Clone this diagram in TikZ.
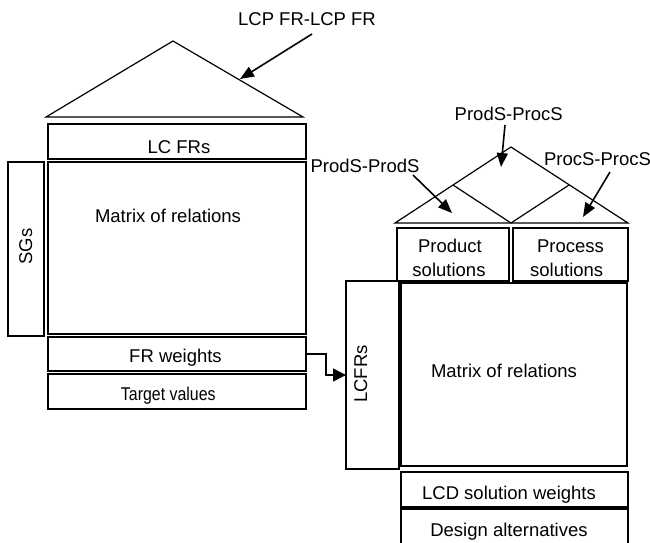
\documentclass[tikz,border=0pt]{standalone}
\usepackage{fontspec}
\setmainfont{Liberation Sans}
\newfontfamily\narrowfont[FakeStretch=0.86]{Liberation Sans}
\usetikzlibrary{arrows.meta}

\begin{document}
\begin{tikzpicture}[x=1pt,y=-1pt,
  frame/.style={draw, rectangle, line width=1.3pt, inner sep=0pt, outer sep=0pt},
  lbl/.style={anchor=base, inner sep=0pt, outer sep=0pt, align=center,
              font=\fontsize{18.5}{24.4}\selectfont},
  roof/.style={line width=1.2pt, line join=miter},
  pointer/.style={line width=1.6pt, -{Triangle[length=14pt,width=11pt]}},
  feed/.style={line width=1.3pt, -{Triangle[length=13pt,width=13pt]}}]

\useasboundingbox (0,0) rectangle (650,542);
\clip (0,0) rectangle (650,542);

% ---------- left house: lifecycle functional requirements ----------
\coordinate (rl) at (46,117);
\coordinate (rt) at (173,41);
\coordinate (rr) at (303,117);
\draw[roof] (rl) -- (rt) -- (rr) -- cycle;

\node[frame, minimum width=258pt, minimum height=35pt]  (lcfr) at (177,141.5) {};
\node[frame, minimum width=258pt, minimum height=172pt] (matL) at (177,248) {};
\node[frame, minimum width=36pt,  minimum height=174pt] (sgs)  at (26,249) {};
\node[frame, minimum width=258pt, minimum height=34pt]  (frw)  at (177,354) {};
\node[frame, minimum width=258pt, minimum height=35pt]  (tv)   at (177,391.5) {};

\node[lbl] (tLcfr) at (179,153)   {LC FRs};
\node[lbl] (tMatL) at (168,222.3) {Matrix of relations};
\node[lbl, rotate=90] (tSgs) at (32,246.7) {SGs};
\node[lbl] (tFrw)  at (175.5,362.3) {FR weights};
\node[lbl, font=\narrowfont\fontsize{18.5}{22}\selectfont] (tTv) at (168.3,400) {Target values};

% correlation roof label
\node[lbl] (tTop) at (307,25) {LCP FR-LCP FR};
\coordinate (p1s) at (312,34);
\coordinate (p1e) at (240,79);
\draw[pointer] (p1s) -- (p1e);

% ---------- right house: lifecycle design solutions ----------
\coordinate (ql) at (395,223);
\coordinate (qt) at (511,147);
\coordinate (qr) at (628,223);
\coordinate (qm) at (511,223);
\coordinate (qa) at (453,185);
\coordinate (qb) at (569,185);
\draw[roof] (ql) -- (qt) -- (qr) -- cycle;
\draw[roof] (qa) -- (qm) -- (qb);

\node[frame, minimum width=112pt, minimum height=53pt]  (prod)  at (453,254.5) {};
\node[frame, minimum width=115pt, minimum height=53pt]  (proc)  at (570.5,254.5) {};
\node[frame, minimum width=53pt,  minimum height=188pt] (lcfrR) at (372.5,375) {};
\node[frame, minimum width=226pt, minimum height=183pt] (matR)  at (514,374.5) {};
\node[frame, minimum width=227pt, minimum height=35pt]  (lcd)   at (514.5,489.5) {};
\node[frame, minimum width=227pt, minimum height=41pt]  (da)    at (514.5,529.5) {};

\node[lbl] (tProd1) at (450,252.3)   {Product};
\node[lbl] (tProd2) at (449,276.7)   {solutions};
\node[lbl] (tProc1) at (570.5,252.3) {Process};
\node[lbl] (tProc2) at (566.7,276.7) {solutions};
\node[lbl, rotate=90] (tLcfrR) at (367,374) {LCFRs};
\node[lbl] (tMatR) at (504,377.3) {Matrix of relations};
\node[lbl] (tLcd)  at (509,499.3) {LCD solution weights};
\node[lbl] (tDa)   at (509,536.7) {Design alternatives};

% correlation roof labels
\node[lbl] (tPP)  at (508.7,120.7) {ProdS-ProcS};
\node[lbl] (tPdP) at (365,172.7)   {ProdS-ProdS};
\node[lbl] (tPcP) at (597.5,165)   {ProcS-ProcS};
\coordinate (p2s) at (505,125);
\coordinate (p2e) at (501,167);
\coordinate (p3s) at (413,175);
\coordinate (p3e) at (452,213);
\coordinate (p4s) at (610,172);
\coordinate (p4e) at (583,217);
\draw[pointer] (p2s) -- (p2e);
\draw[pointer] (p3s) -- (p3e);
\draw[pointer] (p4s) -- (p4e);

% FR weights feed the requirements of the second matrix
\draw[feed] (frw.east) -- ++(20,0) |- (lcfrR.west);
\end{tikzpicture}
\end{document}
